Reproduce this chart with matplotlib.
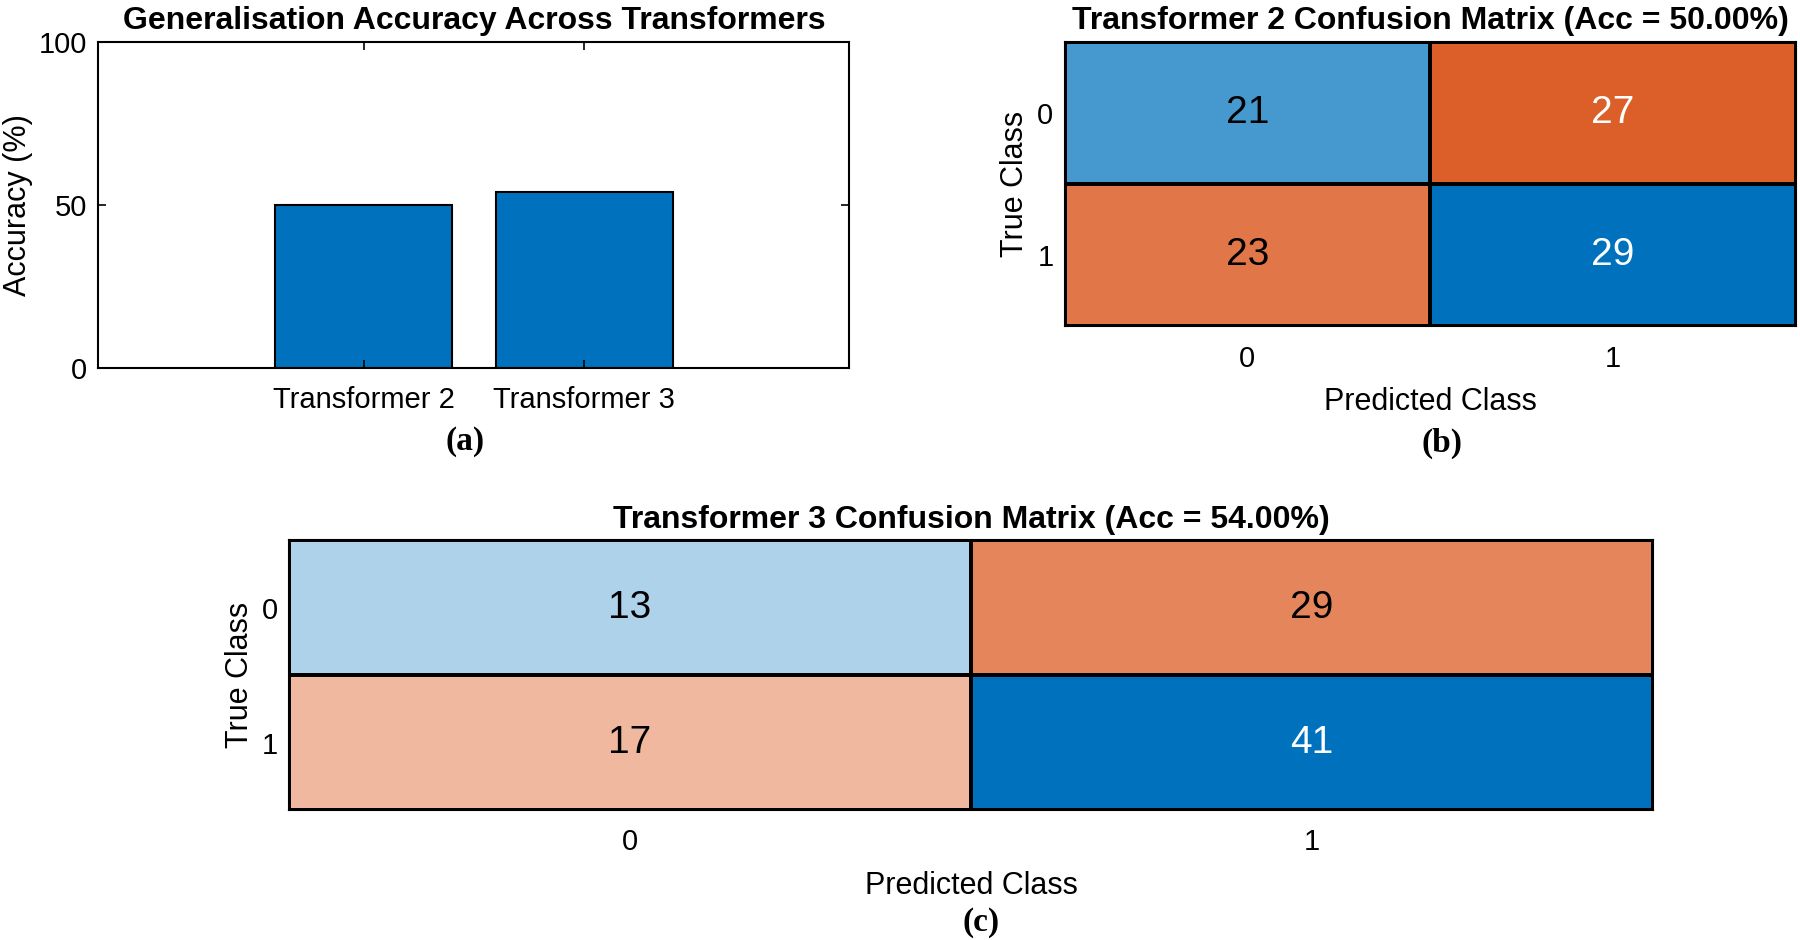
import numpy as np
import matplotlib
matplotlib.use("Agg")
import matplotlib.pyplot as plt
from matplotlib.colors import LinearSegmentedColormap, Normalize

plt.rcParams["font.family"] = ["Liberation Sans", "DejaVu Sans"]

# data
models = ["Transformer 2", "Transformer 3"]
accuracy = [50.0, 54.0]
class_labels = ["0", "1"]
cm_t2 = np.array([[21, 27], [23, 29]])
cm_t3 = np.array([[13, 29], [17, 41]])

blue = "#0072BD"
orange = "#D95319"
blue_map = LinearSegmentedColormap.from_list("blues", ["white", blue])
orange_map = LinearSegmentedColormap.from_list("oranges", ["white", orange])

fig = plt.figure(figsize=(18, 9.4), dpi=100)

# (a) bar chart
ax1 = fig.add_axes([0.0547, 0.6088, 0.4172, 0.3468])
pos = np.arange(1, len(models) + 1)
ax1.bar(pos, accuracy, width=0.8, color=blue, edgecolor="black", linewidth=1.5)
ax1.set_xlim(-0.2, 3.2)
ax1.set_ylim(0, 100)
ax1.set_yticks([0, 50, 100])
ax1.set_xticks(pos)
ax1.set_xticklabels(models)
ax1.tick_params(direction="in", top=True, right=True, length=6, width=1.2,
                labelsize=21)
ax1.tick_params(axis="x", pad=13)
ax1.tick_params(axis="y", pad=8)
ax1.set_ylabel("Accuracy (%)", fontsize=22, labelpad=4)
ax1.set_title("Generalisation Accuracy Across Transformers", fontsize=23,
              fontweight="bold", pad=9)
for s in ax1.spines.values():
    s.set_linewidth(1.5)


def conf_chart(ax, cm, title, tick_pad, label_pad):
    vmax = cm.max()
    norm = Normalize(vmin=0, vmax=vmax)
    diag = np.eye(cm.shape[0], dtype=bool)
    edges = np.arange(cm.shape[0] + 1)
    ax.pcolormesh(edges, edges, np.ma.masked_where(~diag, cm), cmap=blue_map,
                  norm=norm, edgecolors="black", linewidth=1.5)
    ax.pcolormesh(edges, edges, np.ma.masked_where(diag, cm), cmap=orange_map,
                  norm=norm, edgecolors="black", linewidth=1.5)
    ax.set_xlim(0, cm.shape[1])
    ax.set_ylim(cm.shape[0], 0)
    for i in range(cm.shape[0]):
        for j in range(cm.shape[1]):
            col = "white" if cm[i, j] / vmax > 0.8 else "black"
            ax.text(j + 0.5, i + 0.5, str(cm[i, j]), ha="center", va="center",
                    fontsize=28, color=col)
    ticks = np.arange(cm.shape[0]) + 0.5
    ax.set_xticks(ticks)
    ax.set_xticklabels(class_labels)
    ax.set_yticks(ticks)
    ax.set_yticklabels(class_labels)
    ax.tick_params(length=0, labelsize=21)
    ax.tick_params(axis="x", pad=tick_pad)
    ax.tick_params(axis="y", pad=8)
    ax.set_xlabel("Predicted Class", fontsize=22, labelpad=label_pad)
    ax.set_ylabel("True Class", fontsize=22, labelpad=5)
    ax.set_title(title, fontsize=23, fontweight="bold", pad=9)
    for s in ax.spines.values():
        s.set_linewidth(1.5)


acc2 = np.trace(cm_t2) / cm_t2.sum() * 100
acc3 = np.trace(cm_t3) / cm_t3.sum() * 100

ax2 = fig.add_axes([0.5914, 0.6532, 0.4064, 0.3024])
conf_chart(ax2, cm_t2, f"Transformer 2 Confusion Matrix (Acc = {acc2:.2f}%)", 14, 10)

ax3 = fig.add_axes([0.1606, 0.1383, 0.7578, 0.2872])
conf_chart(ax3, cm_t3, f"Transformer 3 Confusion Matrix (Acc = {acc3:.2f}%)", 13, 11)

label_font = dict(family=["Liberation Serif", "DejaVu Serif"], fontsize=24,
                  fontweight="bold", ha="center", va="center")
fig.text(0.2583, 0.5298, "(a)", **label_font)
fig.text(0.801, 0.5287, "(b)", **label_font)
fig.text(0.545, 0.0191, "(c)", **label_font)

fig.savefig("out.png", dpi=100)
